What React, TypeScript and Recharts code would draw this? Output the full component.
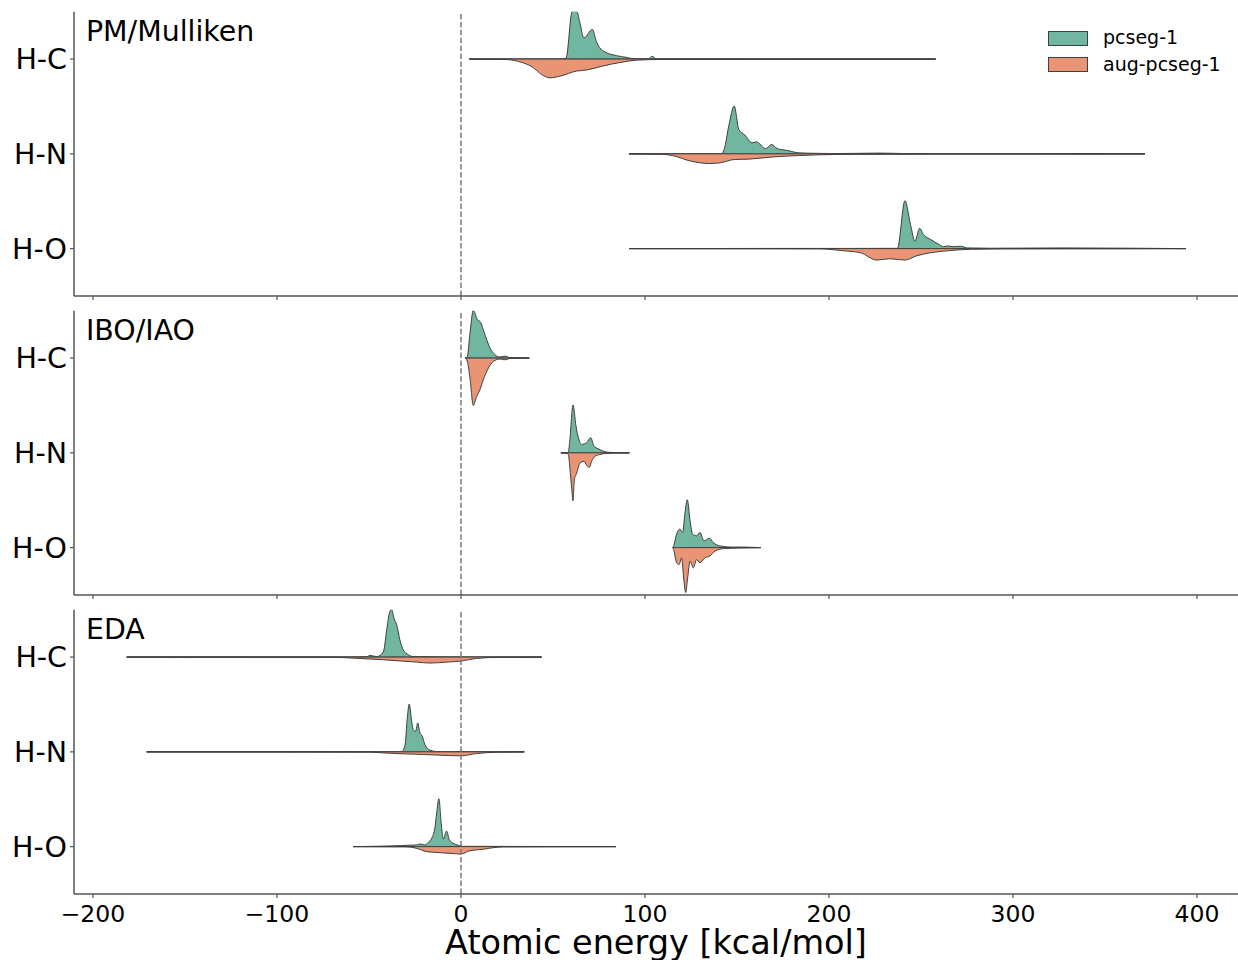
import { Area, ComposedChart, ReferenceLine, XAxis, YAxis } from 'recharts'

type Pt = [number, number] // [energy, half-violin height in category units]

// PM/Mulliken
const PM_HC_PC: Pt[] = [[4.5, 0], [55, 0.002], [57.1, 0.01], [60.5, 0.505], [62.9, 0.505], [64.7, 0.378], [66.8, 0.223], [71.4, 0.313], [73.7, 0.18], [77, 0.09], [84.6, 0.036], [90, 0.018], [93.7, 0.004], [101.8, 0.002], [104, 0.029], [106.3, 0.002], [150, 0.001], [258, 0]]
const PM_HC_AUG: Pt[] = [[4.5, 0], [23, 0.003], [32, 0.029], [39.3, 0.09], [43.8, 0.162], [48.4, 0.198], [53.8, 0.18], [62.9, 0.126], [68.3, 0.115], [77.3, 0.072], [86.4, 0.036], [95.5, 0.011], [108, 0.004], [126, 0.002], [258, 0]]
const PM_HN_PC: Pt[] = [[91.3, 0], [141.7, 0.001], [143.1, 0.05], [145.6, 0.3], [148.5, 0.505], [151, 0.258], [154.3, 0.198], [158.2, 0.116], [160.5, 0.127], [165.6, 0.056], [168.9, 0.099], [171.8, 0.056], [177.6, 0.035], [183.4, 0.011], [191.2, 0.006], [202.9, 0.003], [228.1, 0.008], [241.7, 0.003], [280.5, 0.002], [371.7, 0]]
const PM_HN_AUG: Pt[] = [[91.3, 0], [109.7, 0.004], [115.5, 0.021], [125.2, 0.078], [135, 0.102], [140.8, 0.095], [148.5, 0.06], [156.3, 0.056], [169.9, 0.032], [183.5, 0.018], [195, 0.01], [212.5, 0.005], [261, 0.002], [371.7, 0]]
const PM_HO_PC: Pt[] = [[91.4, 0], [167, 0.002], [207, 0.002], [237.2, 0.003], [241.3, 0.505], [244.3, 0.256], [246.7, 0.078], [249.3, 0.214], [251.3, 0.15], [255.3, 0.096], [259.3, 0.05], [262.3, 0.021], [264.4, 0.028], [267.4, 0.021], [271.4, 0.025], [275.4, 0.007], [287.5, 0.004], [327.7, 0.007], [367.9, 0.004], [394, 0]]
const PM_HO_AUG: Pt[] = [[91.4, 0], [195, 0.002], [207, 0.021], [217, 0.043], [226, 0.121], [233, 0.107], [241.3, 0.121], [247.3, 0.078], [255.3, 0.043], [265.4, 0.021], [277.4, 0.007], [300, 0.002], [394, 0]]

// IBO/IAO
const IBO_HC_PC: Pt[] = [[2.2, 0], [3.4, 0.01], [4.9, 0.26], [6.7, 0.505], [8.9, 0.406], [10.7, 0.378], [12.1, 0.3], [14, 0.194], [15.8, 0.106], [18.5, 0.035], [21.2, 0.011], [23.9, 0.021], [26.6, 0.005], [37.1, 0]]
const IBO_HC_AUG: Pt[] = [[2.2, 0], [3.4, 0.03], [4.9, 0.21], [6.7, 0.5], [8.5, 0.406], [10.3, 0.335], [12.1, 0.23], [14.9, 0.106], [17.6, 0.035], [21.2, 0.01], [23.9, 0.018], [26.6, 0.004], [37.1, 0]]
const IBO_HN_PC: Pt[] = [[54.3, 0], [58.3, 0.002], [59.2, 0.142], [60.9, 0.505], [62.5, 0.285], [63.8, 0.16], [65.6, 0.089], [68.3, 0.107], [70.5, 0.16], [72.3, 0.071], [74.6, 0.043], [77.4, 0.018], [80.1, 0.006], [91.5, 0]]
const IBO_HN_AUG: Pt[] = [[54.3, 0], [58.3, 0.01], [59.2, 0.16], [60.1, 0.356], [60.9, 0.505], [61.6, 0.285], [62.9, 0.214], [64.7, 0.107], [66.9, 0.089], [68.3, 0.132], [69.8, 0.153], [71, 0.089], [72.8, 0.036], [75.5, 0.018], [79.2, 0.005], [91.5, 0]]
const IBO_HO_PC: Pt[] = [[115, 0], [115.4, 0.01], [117.2, 0.142], [119, 0.196], [120.5, 0.16], [121.7, 0.356], [123, 0.505], [124.5, 0.285], [125.9, 0.142], [128.1, 0.125], [129.9, 0.16], [132.1, 0.071], [135, 0.1], [137.1, 0.053], [140.8, 0.018], [146.2, 0.006], [155.3, 0.005], [162.9, 0]]
const IBO_HO_AUG: Pt[] = [[115, 0], [115.4, 0.01], [117.2, 0.16], [118.6, 0.178], [119.9, 0.107], [121.2, 0.356], [122.1, 0.475], [123.2, 0.32], [124.5, 0.142], [126.3, 0.214], [128.1, 0.125], [129.9, 0.16], [132.6, 0.107], [135.3, 0.089], [138.1, 0.036], [142.6, 0.011], [151.6, 0.004], [162.9, 0]]

// EDA
const EDA_HC_PC: Pt[] = [[-181.7, 0], [-60, 0.001], [-51.3, 0.003], [-49.5, 0.018], [-45.8, 0.005], [-42.2, 0.053], [-40.4, 0.28], [-39, 0.456], [-37.7, 0.505], [-36.4, 0.41], [-34.9, 0.34], [-33.2, 0.182], [-31.4, 0.077], [-28.6, 0.025], [-25.9, 0.005], [0, 0.001], [43.8, 0]]
const EDA_HC_AUG: Pt[] = [[-181.7, 0], [-69.4, 0.002], [-58.5, 0.011], [-42.2, 0.028], [-24.1, 0.053], [-16.8, 0.063], [-7.8, 0.053], [0, 0.042], [8.5, 0.014], [21.2, 0.002], [43.8, 0]]
const EDA_HN_PC: Pt[] = [[-170.8, 0], [-32.2, 0.002], [-30.4, 0.07], [-29.2, 0.35], [-28.1, 0.505], [-26.8, 0.323], [-25.9, 0.235], [-24.6, 0.218], [-23.5, 0.305], [-22.3, 0.2], [-21, 0.165], [-19.6, 0.077], [-16.8, 0.018], [-13.2, 0.003], [34.4, 0]]
const EDA_HN_AUG: Pt[] = [[-170.8, 0], [-49.5, 0.002], [-42.2, 0.011], [-31.3, 0.021], [-20.5, 0.028], [-11.4, 0.035], [0, 0.042], [8.5, 0.018], [19.4, 0.004], [34.4, 0]]
const EDA_HO_PC: Pt[] = [[-58.5, 0], [-24.1, 0.018], [-22.3, 0.028], [-19.6, 0.018], [-17.8, 0.043], [-15.9, 0.089], [-14.1, 0.206], [-13.2, 0.356], [-12, 0.505], [-10.7, 0.242], [-9.6, 0.082], [-7.8, 0.164], [-6.3, 0.071], [-4.2, 0.035], [-1.4, 0.014], [1.2, 0.003], [84.2, 0]]
const EDA_HO_AUG: Pt[] = [[-58.5, 0], [-29.5, 0.002], [-24.1, 0.018], [-18.6, 0.053], [-11.4, 0.064], [-6, 0.071], [0, 0.078], [4.9, 0.043], [12.1, 0.028], [17.6, 0.011], [23, 0.003], [84.2, 0]]

const CATEGORIES = ['H-C', 'H-N', 'H-O']
const SERIES = ['pcseg-1', 'aug-pcseg-1']
const X_TICKS = [-200, -100, 0, 100, 200, 300, 400]
const X_LABEL = 'Atomic energy [kcal/mol]'

const PANELS = [
  { title: 'PM/Mulliken', violins: [[PM_HC_PC, PM_HC_AUG], [PM_HN_PC, PM_HN_AUG], [PM_HO_PC, PM_HO_AUG]] },
  { title: 'IBO/IAO', violins: [[IBO_HC_PC, IBO_HC_AUG], [IBO_HN_PC, IBO_HN_AUG], [IBO_HO_PC, IBO_HO_AUG]] },
  { title: 'EDA', violins: [[EDA_HC_PC, EDA_HC_AUG], [EDA_HN_PC, EDA_HN_AUG], [EDA_HO_PC, EDA_HO_AUG]] },
]

const COLORS = ['#71b6a0', '#e99575']
const EDGE = '#3f3f3f'
const SPINE = '#555555'
const FONT = '"DejaVu Sans", sans-serif'

const W = 1238
const H = 960
const PLOT_LEFT = 74
const PLOT_H = 284.3
const PANEL_TOP = [11.7, 310.7, 609.7]

const fmtX = (v: number) => (v < 0 ? `\u2212${Math.abs(v)}` : `${v}`)

function buildRows(violins: Pt[][][]) {
  const rows: Record<string, number>[] = []
  violins.forEach((pair, ci) =>
    pair.forEach((pts, si) => pts.forEach(([x, h]) => rows.push({ x, [`v${ci}_${si}`]: h }))),
  )
  return rows.sort((a, b) => a.x - b.x)
}

function Panel({ idx }: { idx: number }) {
  const panel = PANELS[idx]
  const rows = buildRows(panel.violins)
  const top = PANEL_TOP[idx]
  const last = idx === PANELS.length - 1
  const axisH = last ? H - top - PLOT_H : 14
  return (
    <div style={{ position: 'absolute', left: 0, top: 0 }}>
      <ComposedChart
        width={W}
        height={top + PLOT_H + axisH}
        data={rows}
        margin={{ top, right: 0, bottom: 0, left: 0 }}
      >
        <XAxis
          dataKey="x"
          type="number"
          domain={[-210.3, 422.3]}
          allowDataOverflow
          ticks={X_TICKS}
          interval={0}
          tickFormatter={fmtX}
          height={axisH}
          axisLine={{ stroke: SPINE, strokeWidth: 1.5 }}
          tickLine={{ stroke: SPINE, strokeWidth: 1.2 }}
          tickSize={4}
          tickMargin={7}
          tick={last ? { fill: '#000', fontSize: 23.5 } : () => <g />}
          label={last ? { value: X_LABEL, position: 'insideBottom', offset: 6, fontSize: 33.5, fill: '#000' } : undefined}
        />
        <YAxis
          type="number"
          domain={[-0.5, 2.5]}
          allowDataOverflow
          ticks={[0, 1, 2]}
          interval={0}
          tickFormatter={(v: number) => CATEGORIES[2 - v]}
          width={PLOT_LEFT}
          axisLine={{ stroke: SPINE, strokeWidth: 1.5 }}
          tickLine={{ stroke: SPINE, strokeWidth: 1.2 }}
          tickSize={4}
          tickMargin={3}
          tick={{ fill: '#000', fontSize: 28.5 }}
        />
        {panel.violins.map((pair, ci) =>
          pair.map((_, si) => {
            const key = `v${ci}_${si}`
            const c = 2 - ci
            return (
              <Area
                key={key}
                name={SERIES[si]}
                type="monotoneX"
                dataKey={(r: any) => (r[key] == null ? null : [c, si === 0 ? c + r[key] : c - r[key]])}
                stroke={EDGE}
                strokeWidth={1}
                fill={COLORS[si]}
                fillOpacity={1}
                connectNulls
                dot={false}
                activeDot={false}
                isAnimationActive={false}
              />
            )
          }),
        )}
        <ReferenceLine x={0} stroke="#7a7a7a" strokeWidth={1.5} strokeDasharray="5.5 2.4" />
      </ComposedChart>
      <div
        style={{
          position: 'absolute',
          left: 86,
          top: top + 6.2,
          fontSize: 28.4,
          lineHeight: 1,
          whiteSpace: 'nowrap',
          color: '#000',
        }}
      >
        {panel.title}
      </div>
    </div>
  )
}

function LegendBox() {
  return (
    <div style={{ position: 'absolute', left: 1048, top: 28 }}>
      {SERIES.map((s, i) => (
        <div key={s} style={{ position: 'absolute', left: 0, top: i * 26.7, width: 190, height: 20 }}>
          <div
            style={{
              position: 'absolute',
              left: 0,
              top: 2.5,
              width: 38,
              height: 13,
              background: COLORS[i],
              border: `1px solid ${EDGE}`,
            }}
          />
          <div style={{ position: 'absolute', left: 55, top: 0, fontSize: 19, lineHeight: '19px', whiteSpace: 'nowrap', color: '#000' }}>
            {s}
          </div>
        </div>
      ))}
    </div>
  )
}

export default function App() {
  return (
    <div
      style={{
        position: 'absolute',
        left: 0,
        top: 0,
        width: W,
        height: H,
        overflow: 'hidden',
        background: '#fff',
        fontFamily: FONT,
      }}
    >
      {PANELS.map((_, i) => (
        <Panel key={i} idx={i} />
      ))}
      <LegendBox />
    </div>
  )
}
